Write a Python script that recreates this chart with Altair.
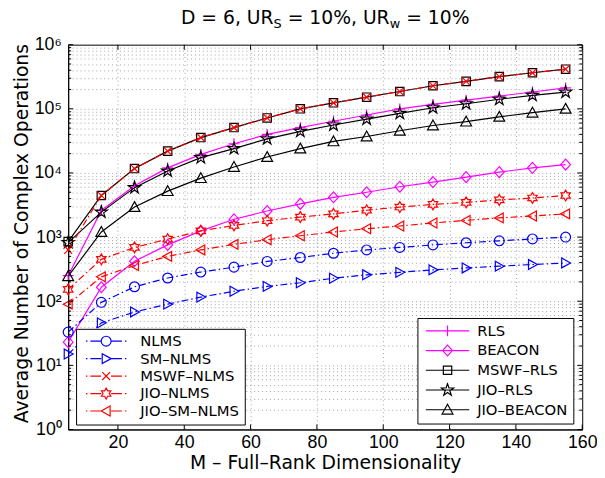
import math
import altair as alt
import pandas as pd

# ---------------- data ----------------
M = [5, 15, 25, 35, 45, 55, 65, 75, 85, 95, 105, 115, 125, 135, 145, 155]

NLMS        = [33, 96, 168, 230, 285, 340, 417, 480, 560, 630, 690, 755, 815, 875, 935, 1000]
SM_NLMS     = [15, 46, 68, 90, 116, 143, 170, 194, 228, 258, 282, 308, 330, 352, 373, 395]
MSWF_NLMS   = [630, 4450, 11700, 21900, 35600, 51000, 72000, 100000, 124000, 152000, 186000, 229000, 268000, 318000, 365000, 415000]
JIO_NLMS    = [153, 450, 690, 930, 1250, 1520, 1800, 2050, 2300, 2620, 2940, 3230, 3480, 3800, 4070, 4450]
JIO_SM_NLMS = [90, 240, 360, 500, 630, 770, 910, 1050, 1200, 1350, 1490, 1660, 1820, 1990, 2130, 2300]

RLS         = [250, 2600, 6300, 12000, 19500, 28500, 40000, 51000, 64000, 80000, 100000, 117000, 137000, 158000, 183000, 212000]
BEACON      = [23, 165, 420, 755, 1250, 1900, 2550, 3300, 4170, 5000, 6100, 7200, 8600, 10300, 12000, 13500]
MSWF_RLS    = [850, 4450, 11700, 21900, 35600, 51000, 72000, 100000, 124000, 152000, 186000, 229000, 268000, 318000, 365000, 415000]
JIO_RLS     = [820, 2450, 5900, 10700, 17300, 24000, 34000, 44500, 56000, 69000, 85000, 104000, 120000, 141000, 162000, 182000]
JIO_BEACON  = [245, 1200, 2940, 5200, 8300, 12400, 17700, 24000, 31000, 37000, 45500, 55000, 63000, 75000, 87000, 100000]

LEFT_NAMES = ["NLMS", "SM–NLMS", "MSWF–NLMS", "JIO–NLMS", "JIO–SM–NLMS"]
RIGHT_NAMES = ["RLS", "BEACON", "MSWF–RLS", "JIO–RLS", "JIO–BEACON"]
SERIES = {
    "NLMS": NLMS, "SM–NLMS": SM_NLMS, "MSWF–NLMS": MSWF_NLMS,
    "JIO–NLMS": JIO_NLMS, "JIO–SM–NLMS": JIO_SM_NLMS,
    "RLS": RLS, "BEACON": BEACON, "MSWF–RLS": MSWF_RLS,
    "JIO–RLS": JIO_RLS, "JIO–BEACON": JIO_BEACON,
}

X_TICKS = [20, 40, 60, 80, 100, 120, 140, 160]
Y_MAJOR = [1, 10, 100, 1000, 10000, 100000, 1000000]
Y_MINOR = [m * 10 ** k for k in range(6) for m in range(2, 10)]
SUP = {1: "10⁰", 10: "10¹", 100: "10²", 1000: "10³", 10000: "10⁴", 100000: "10⁵", 1000000: "10⁶"}

TITLE_MAIN = ["D = 6, UR", "= 10%, UR", "= 10%"]
TITLE_SUB = ["S", "w"]
X_TITLE = "M – Full–Rank Dimensionality"
Y_TITLE = "Average Number of Complex Operations"

# ---------------- styles ----------------
W, H = 521, 390
FONT = "DejaVu Sans"
TICKFONT = "Liberation Sans"
BLUE, RED, MAG, BLK = "#0000FF", "#FF0000", "#FF00FF", "#000000"
DASHDOT = [7, 3, 1.5, 3]
LW = 1.2

STYLE = {  # color, dash, marker, marker diameter px
    "NLMS": (BLUE, DASHDOT, "circle", 10),
    "SM–NLMS": (BLUE, DASHDOT, "tri_right", 10),
    "MSWF–NLMS": (RED, DASHDOT, "x", 8),
    "JIO–NLMS": (RED, DASHDOT, "hexagram", 11),
    "JIO–SM–NLMS": (RED, DASHDOT, "tri_left", 10),
    "RLS": (MAG, None, "plus", 11),
    "BEACON": (MAG, None, "diamond", 11),
    "MSWF–RLS": (BLK, None, "square", 8.5),
    "JIO–RLS": (BLK, None, "pentagram", 13),
    "JIO–BEACON": (BLK, None, "tri_up", 11),
}


def f(v):
    return f"{v:.4f}"


def poly(pts, s):
    return "M" + "L".join(f"{f(x * s)},{f(y * s)}" for x, y in pts) + "Z"


def star(n, rin):
    pts = []
    for i in range(2 * n):
        a = -math.pi / 2 + i * math.pi / n
        r = 1.0 if i % 2 == 0 else rin
        pts.append((r * math.cos(a), r * math.sin(a)))
    return pts


def marker_path(kind, s):
    if kind == "circle":
        return f"M{f(s)},0A{f(s)},{f(s)},0,1,1,{f(-s)},0A{f(s)},{f(s)},0,1,1,{f(s)},0Z"
    if kind == "square":
        return poly([(-1, -1), (1, -1), (1, 1), (-1, 1)], s)
    if kind == "diamond":
        return poly([(0, -1), (0.9, 0), (0, 1), (-0.9, 0)], s)
    if kind == "plus":
        return f"M{f(-s)},0H{f(s)}M0,{f(-s)}V{f(s)}"
    if kind == "x":
        return f"M{f(-s)},{f(-s)}L{f(s)},{f(s)}M{f(-s)},{f(s)}L{f(s)},{f(-s)}"
    if kind == "tri_up":
        return poly([(0, -1), (1, 0.8), (-1, 0.8)], s)
    if kind == "tri_right":
        return poly([(1, 0), (-0.8, -1), (-0.8, 1)], s)
    if kind == "tri_left":
        return poly([(-1, 0), (0.8, -1), (0.8, 1)], s)
    if kind == "pentagram":
        return poly(star(5, 0.382), s)
    if kind == "hexagram":
        return poly(star(6, 0.577), s)
    raise ValueError(kind)


def legend_path(name, half, dashed):
    color, dash, kind, d = STYLE[name]
    if dashed:
        segs = [(-half, -19.0), (-16.0, -5.0), (5.0, 16.0), (19.0, half)]
    else:
        segs = [(-half, half)]
    line = "".join(f"M{f(a / half)},0H{f(b / half)}" for a, b in segs)
    return line + marker_path(kind, (d / 2.0) / half)


xscale = alt.Scale(domain=[5, 160], nice=False, zero=False)
yscale = alt.Scale(type="log", domain=[1, 1000000], nice=False)

x_axis = alt.Axis(
    values=X_TICKS, grid=True, gridDash=[1, 3], gridColor="#666666", gridOpacity=0.75, gridWidth=0.8,
    ticks=False, domainColor="black", labelPadding=4, labelFlush=False, labelFont=TICKFONT, labelFontSize=18,
    labelColor="black", title=X_TITLE, titleFont=FONT, titleFontSize=19, titleFontWeight="normal",
    titleColor="black", titleX=W / 2, titleY=40, titleBaseline="alphabetic",
)
label_expr = " : ".join(f"datum.value == {k} ? '{v}'" for k, v in SUP.items()) + " : ''"
y_axis = alt.Axis(
    values=Y_MAJOR + Y_MINOR, grid=True, gridDash=[1, 3], gridColor="#666666", gridOpacity=0.75, gridWidth=0.8,
    ticks=False, domainColor="black", labelPadding=7, labelOverlap=False, labelExpr=label_expr,
    labelFont=TICKFONT, labelFontSize=18, labelColor="black", title=Y_TITLE, titleFont=FONT,
    titleFontSize=19, titleFontWeight="normal", titleColor="black", titleX=-41, titleY=191,
    titleBaseline="alphabetic",
)


def X(field):
    return alt.X(field, scale=xscale, axis=x_axis)


def Y(field):
    return alt.Y(field, scale=yscale, axis=y_axis)


rows = []
for name in LEFT_NAMES + RIGHT_NAMES:
    for m, v in zip(M, SERIES[name]):
        rows.append({"M": m, "value": v, "series": name})
df = pd.DataFrame(rows)

layers = []
for name in RIGHT_NAMES + LEFT_NAMES:
    color, dash, kind, d = STYLE[name]
    sub = df[df.series == name]
    lkw = dict(color=color, strokeWidth=LW)
    if dash:
        lkw["strokeDash"] = dash
    line = alt.Chart(sub).mark_line(**lkw).encode(x=X("M:Q"), y=Y("value:Q"), order="M:Q")
    pts = alt.Chart(sub).mark_point(
        shape=marker_path(kind, 1.0), size=d * d, filled=False, color=color,
        strokeWidth=LW, opacity=1,
    ).encode(x=X("M:Q"), y=Y("value:Q"))
    layers += [line, pts]


def legend_layer(names, half, dashed, lx, ly, row_pad, sym_off, lab_off, pad):
    sub = df[df.series.isin(names)]
    leg = alt.Legend(
        orient="none", legendX=lx, legendY=ly, title=None, fillColor="white", strokeColor="black",
        padding=pad, rowPadding=row_pad, symbolSize=(2 * half) ** 2, symbolStrokeWidth=LW,
        symbolOffset=sym_off, labelOffset=lab_off, labelFont=FONT, labelFontSize=15,
        labelColor="black", labelLimit=300, cornerRadius=0, clipHeight=15,
    )
    return alt.Chart(sub).mark_point(size=0, filled=False, strokeWidth=LW, opacity=1).encode(
        x=X("M:Q"), y=Y("value:Q"),
        color=alt.Color("series:N", scale=alt.Scale(domain=names, range=[STYLE[n][0] for n in names]), legend=leg),
        shape=alt.Shape("series:N", scale=alt.Scale(domain=names, range=[legend_path(n, half, dashed) for n in names]), legend=leg),
    )


layers.append(legend_layer(LEFT_NAMES, 20.5, True, 8, 288, 1.7, 4, 13, 5))
layers.append(legend_layer(RIGHT_NAMES, 22.0, False, 354, 277, 4, 2, 7, 5.5))


# inward ticks (MATLAB style)
def yticks(vals, length, xpos):
    return alt.Chart(pd.DataFrame({"v": vals})).mark_tick(size=length, thickness=1, color="black", opacity=1).encode(
        y=Y("v:Q"), x=alt.value(xpos))


def xticks(vals, length, ypos):
    return alt.Chart(pd.DataFrame({"v": vals})).mark_tick(size=length, thickness=1, color="black", opacity=1).encode(
        x=X("v:Q"), y=alt.value(ypos))


layers += [
    yticks(Y_MAJOR, 5, 2.5), yticks(Y_MINOR, 3, 1.5),
    yticks(Y_MAJOR, 5, W - 2.5), yticks(Y_MINOR, 3, W - 1.5),
    xticks(X_TICKS, 5, H - 2.5), xticks(X_TICKS, 5, 2.5),
]

# title with subscripts
DJ = {"D": 770, " ": 318, "=": 838, "6": 636, ",": 318, "U": 732, "R": 695, "S": 635,
      "1": 636, "0": 636, "%": 950, "w": 818}


def tw(s, size):
    return sum(DJ.get(c, 600) for c in s) * size / 1000.0


FS, FSS = 19, 13
pieces = [(TITLE_MAIN[0], FS, 0), (TITLE_SUB[0], FSS, 3.4), (TITLE_MAIN[1], FS, 0),
          (TITLE_SUB[1], FSS, 3.4), (TITLE_MAIN[2], FS, 0)]
total = 0
for i, (t, s, _) in enumerate(pieces):
    total += tw(t, s)
    if i in (1, 3):
        total += tw(" ", FS)
xcur = W / 2 - total / 2
base_y = -20.7
for i, (t, s, dy) in enumerate(pieces):
    layers.append(
        alt.Chart(pd.DataFrame({"t": [t]})).mark_text(
            align="left", baseline="alphabetic", font=FONT, fontSize=s, color="black"
        ).encode(x=alt.value(xcur), y=alt.value(base_y + dy), text="t:N")
    )
    xcur += tw(t, s)
    if i in (1, 3):
        xcur += tw(" ", FS)

chart = alt.layer(*layers).resolve_scale(color="independent", shape="independent").properties(
    width=W, height=H,
    autosize=alt.AutoSizeParams(type="none"),
    padding={"left": 61, "top": 34, "right": 15, "bottom": 46},
    background="white",
).configure_view(stroke="black", strokeWidth=1)

chart.save("out.html", embed_options={"renderer": "svg", "actions": False})
